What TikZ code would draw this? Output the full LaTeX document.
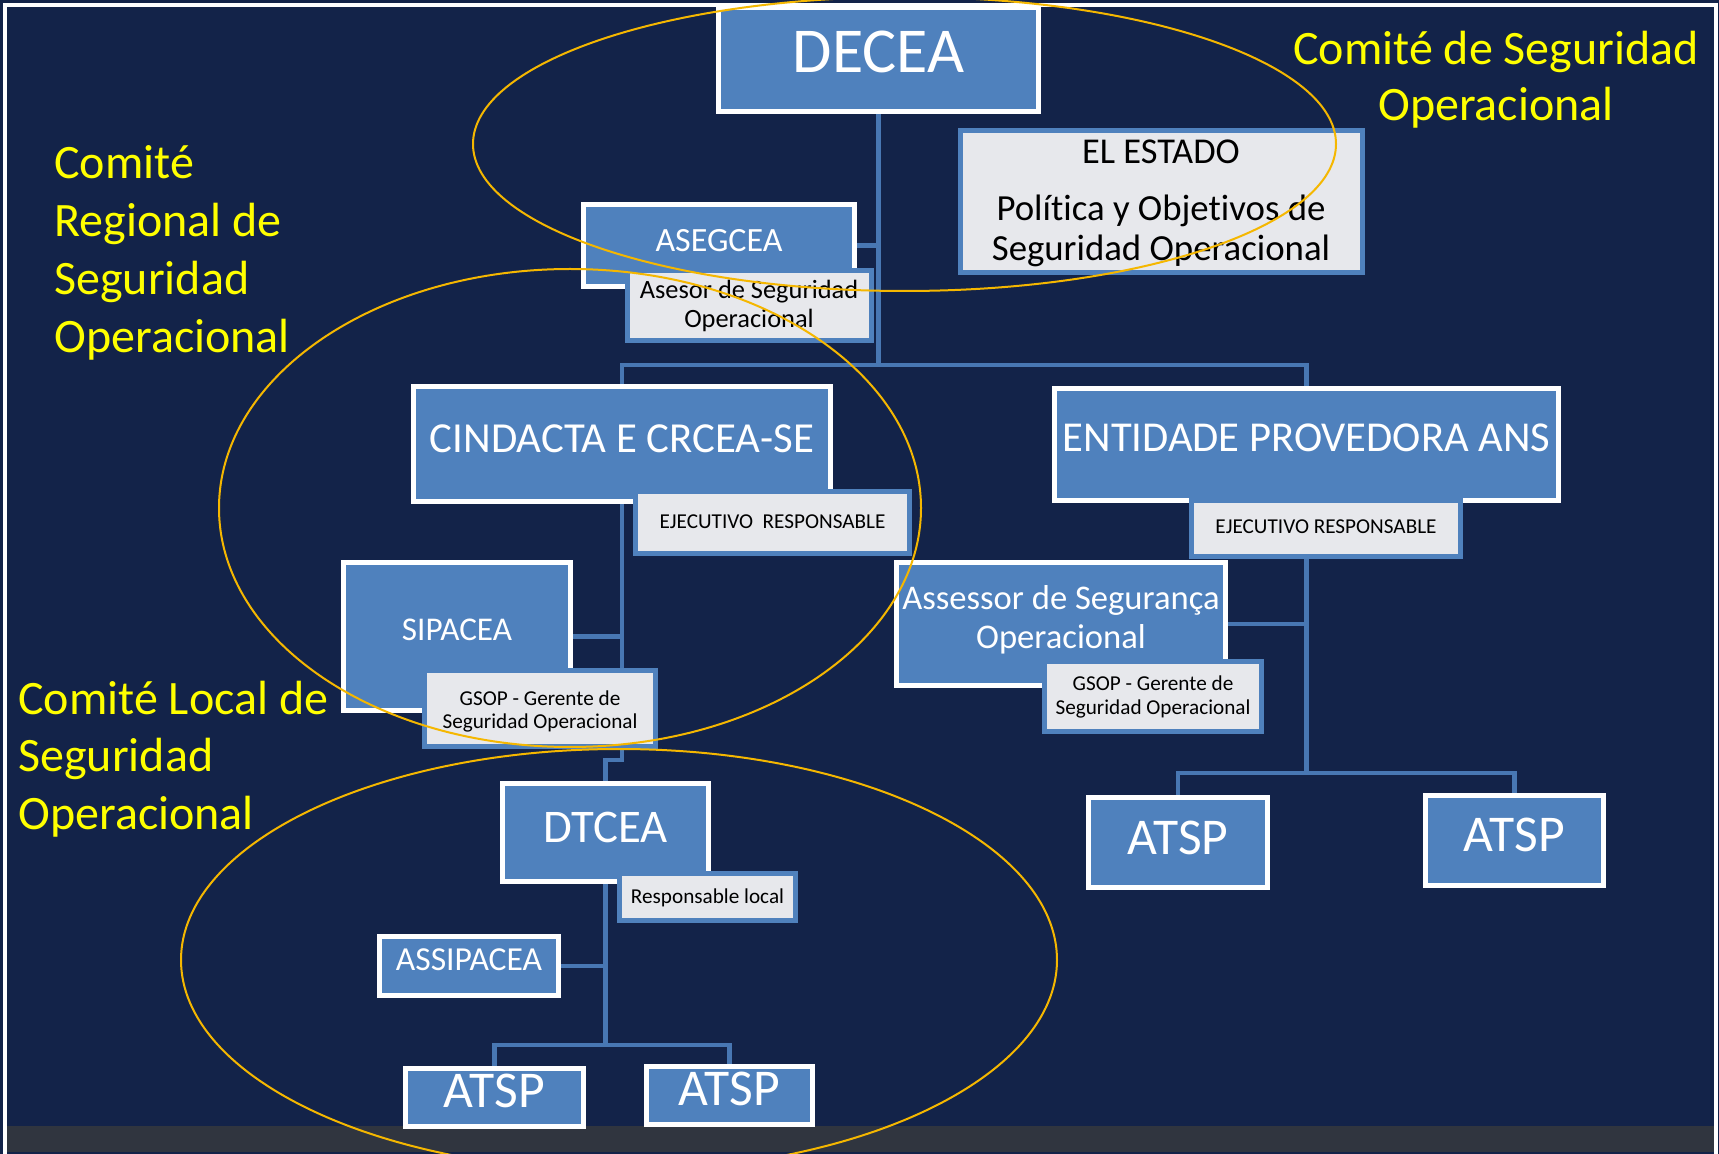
\documentclass[tikz,border=0pt]{standalone}
\usepackage{fontspec}
\setmainfont{Carlito}[Ligatures=NoCommon]
\usetikzlibrary{calc}
\definecolor{navy}{HTML}{132349}
\definecolor{boxblue}{HTML}{4F81BD}
\definecolor{lineblue}{HTML}{4877B3}
\definecolor{greyfill}{HTML}{E7E8EC}
\definecolor{bandgrey}{HTML}{30353F}
\definecolor{amber}{HTML}{F5B700}
\definecolor{yel}{HTML}{FFFF00}
\pgfdeclarelayer{bglayer}
\pgfdeclarelayer{connlayer}
\pgfsetlayers{bglayer,connlayer,main}
% box from outer corners (pixel units)
\newcommand{\mkbox}[6]{\node[#1, minimum width={(#5-#3)*0.5pt-2.5pt}, minimum height={(#6-#4)*0.5pt-2.5pt}] (#2) at ({(#3+#5)/2},{(#4+#6)/2}) {};}
\newcommand{\mktext}[6]{\node[#1, anchor=#2, inner sep=0pt] (#3) at (#4,#5) {#6};}
\begin{document}
\begin{tikzpicture}[x=0.5pt,y=-0.5pt,
  bluebox/.style={draw=white, fill=boxblue, line width=2.5pt, inner sep=0pt},
  greybox/.style={draw=boxblue, fill=greyfill, line width=2.5pt, inner sep=0pt},
  conn/.style={draw=lineblue, line width=2.2pt},
  ring/.style={draw=amber, line width=1pt},
  fs/.style={font=\fontsize{#1}{#1}\selectfont},
  wt/.style={text=white},
  bt/.style={text=black},
  yt/.style={text=yel}]
\useasboundingbox (0,0) rectangle (1719,1154);
% background
\begin{pgfonlayer}{bglayer}
\fill[navy] (0,0) rectangle (1719,1154);
\fill[bandgrey] (7,1126) rectangle (1714,1152);
\draw[white, line width=2pt] (5,1154) -- (5,5) -- (1716,5) -- (1716,1154);
\end{pgfonlayer}

% blue boxes
\mkbox{bluebox}{decea}{716}{5}{1041}{114}
\mkbox{bluebox}{aseg}{581}{202}{857}{289}
\mkbox{bluebox}{cind}{411}{384}{833}{504}
\mkbox{bluebox}{sip}{341}{560}{573}{713}
\mkbox{bluebox}{dtcea}{500}{781}{711}{884}
\mkbox{bluebox}{assi}{377}{934}{561}{998}
\mkbox{bluebox}{atspLa}{403}{1066}{586}{1129}
\mkbox{bluebox}{atspLb}{644}{1064}{815}{1127}
\mkbox{bluebox}{ent}{1052}{386}{1561}{503}
\mkbox{bluebox}{asse}{894}{560}{1228}{688}
\mkbox{bluebox}{atspRa}{1086}{795}{1270}{890}
\mkbox{bluebox}{atspRb}{1423}{793}{1606}{888}

% grey boxes
\mkbox{greybox}{estado}{958}{128}{1365}{275}
\mkbox{greybox}{asesor}{625}{268}{874}{343}
\mkbox{greybox}{ejecL}{633}{489}{912}{556}
\mkbox{greybox}{gsopL}{422}{668}{658}{749}
\mkbox{greybox}{resp}{617}{871}{798}{923}
\mkbox{greybox}{ejecR}{1189}{498}{1463}{559}
\mkbox{greybox}{gsopR}{1042}{659}{1264}{734}

% connectors (behind boxes)
\path (cind.north) ++(0,-19) coordinate (jTop);
\path (ent.south) ++(0,270) coordinate (jR);
\path (dtcea.south) ++(0,161) coordinate (jL);
\path (cind.south) ++(0,256) coordinate (jC);
\begin{pgfonlayer}{connlayer}
\draw[conn] (decea.south) -- (decea.south |- jTop);
\draw[conn] (aseg.east) -- (aseg.east -| decea.south);
\draw[conn] (cind.north) -- (jTop) -| (ent.north);
\draw[conn] (cind.south) -- (jC) -| (dtcea.north);
\draw[conn] (sip.east) -- (sip.east -| cind.south);
\draw[conn] (ent.south) -- (jR);
\draw[conn] (asse.east) -- (asse.east -| ent.south);
\draw[conn] (atspRa.north) |- (jR) -| (atspRb.north);
\draw[conn] (dtcea.south) -- (jL);
\draw[conn] (assi.east) -- (assi.east -| dtcea.south);
\draw[conn] (atspLa.north) |- (jL) -| (atspLb.north);
\end{pgfonlayer}

% texts in blue boxes
\mktext{fs=32,wt}{base}{t-decea}{878.5}{72.5}{DECEA}
\mktext{fs=17,wt}{base}{t-aseg}{719}{252}{ASEGCEA}
\mktext{fs=21.4,wt}{base}{t-cind}{622}{452.5}{CINDACTA E CRCEA-SE}
\mktext{fs=16.6,wt}{base}{t-sip}{457}{641}{SIPACEA}
\mktext{fs=23.4,wt}{base}{t-dtcea}{605.5}{842}{DTCEA}
\mktext{fs=16.8,wt}{base}{t-assi}{469}{970}{ASSIPACEA}
\mktext{fs=25.8,wt}{base}{t-atspLa}{494.5}{1107}{ATSP}
\mktext{fs=25.8,wt}{base}{t-atspLb}{729.5}{1105}{ATSP}
\mktext{fs=21.3,wt}{base}{t-ent}{1306.5}{452}{ENTIDADE PROVEDORA ANS}
\mktext{fs=17.3,wt}{base}{t-asse1}{1061}{610}{Assessor de Segurança}
\mktext{fs=17.3,wt}{base}{t-asse2}{1061}{648}{Operacional}
\mktext{fs=25.8,wt}{base}{t-atspRa}{1178}{854}{ATSP}
\mktext{fs=25.8,wt}{base}{t-atspRb}{1514.5}{851}{ATSP}

% texts in grey boxes
\mktext{fs=18.2,bt}{base}{t-estado1}{1161}{164}{EL ESTADO}
\mktext{fs=18.4,bt}{base}{t-estado2}{1161}{221}{Política y Objetivos de}
\mktext{fs=18.4,bt}{base}{t-estado3}{1161}{261}{Seguridad Operacional}
\mktext{fs=13.2,bt}{base}{t-asesor1}{749}{299}{Asesor de Seguridad}
\mktext{fs=13.2,bt}{base}{t-asesor2}{749}{328}{Operacional}
\mktext{fs=10.6,bt}{base}{t-ejecL}{772.5}{529}{EJECUTIVO\ \ RESPONSABLE}
\mktext{fs=10.6,bt}{base}{t-gsopL1}{540}{705}{GSOP - Gerente de}
\mktext{fs=10.6,bt}{base}{t-gsopL2}{540}{728}{Seguridad Operacional}
\mktext{fs=10.6,bt}{base}{t-resp}{707.5}{903}{Responsable local}
\mktext{fs=10.6,bt}{base}{t-ejecR}{1326}{534}{EJECUTIVO RESPONSABLE}
\mktext{fs=10.6,bt}{base}{t-gsopR1}{1153}{690}{GSOP - Gerente de}
\mktext{fs=10.6,bt}{base}{t-gsopR2}{1153}{714}{Seguridad Operacional}

% committee rings
\draw[ring] (904.5,144) ellipse [x radius=215.75pt, y radius=73.5pt];
\draw[ring] (570,508) ellipse [x radius=175.5pt, y radius=119.5pt];
\draw[ring] (619,960) ellipse [x radius=219pt, y radius=105.5pt];

% committee labels
\mktext{fs=24,yt}{base}{y-c1}{1496}{65}{Comité de Seguridad}
\mktext{fs=24,yt}{base}{y-c2}{1496}{121}{Operacional}
\mktext{fs=24,yt}{base west}{y-r1}{54}{179}{Comité}
\mktext{fs=24,yt}{base west}{y-r2}{54}{237}{Regional de}
\mktext{fs=24,yt}{base west}{y-r3}{54}{295}{Seguridad}
\mktext{fs=24,yt}{base west}{y-r4}{54}{353}{Operacional}
\mktext{fs=24,yt}{base west}{y-l1}{18}{714}{Comité Local de}
\mktext{fs=24,yt}{base west}{y-l2}{18}{771.5}{Seguridad}
\mktext{fs=24,yt}{base west}{y-l3}{18}{829}{Operacional}
\end{tikzpicture}
\end{document}
